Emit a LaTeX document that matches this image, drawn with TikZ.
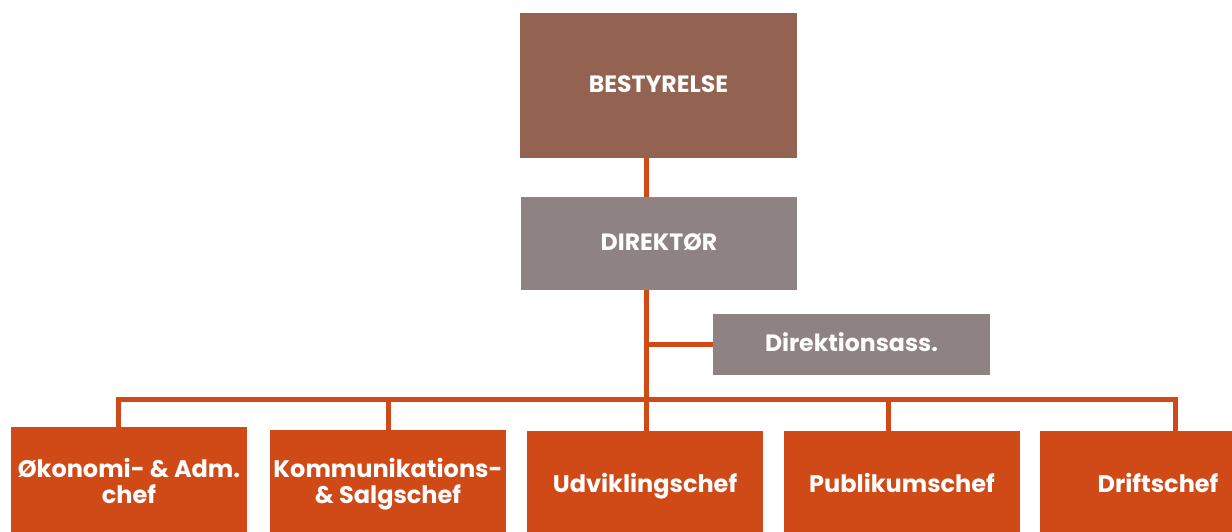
\documentclass[tikz,border=0pt]{standalone}
\usepackage{fontspec}
\setmainfont{Poppins}
\usepackage{tikz}
\usetikzlibrary{positioning}
\definecolor{brunt}{HTML}{946250}
\definecolor{graat}{HTML}{8E8382}
\definecolor{rust}{HTML}{D04A18}

\begin{document}
\begin{tikzpicture}[x=0.5pt, y=-0.5pt, every node/.style={rectangle, inner sep=0pt, text=white, align=center, font=\bfseries\fontsize{11.8}{13}\selectfont}, link/.style={rust, line width=2.5pt}, oneline/.style={text height=0.72em, text depth=0pt}, chefbox/.style={fill=rust, minimum width=118pt, minimum height=54pt, font=\bfseries\fontsize{12}{13}\selectfont}]

    \clip (0,0) rectangle (1232,531);

    \node[oneline, fill=brunt, minimum width=138.5pt, minimum height=72.5pt] (best) at (658.5,85.5) {BESTYRELSE};

    \node[oneline, fill=graat, minimum width=138pt, minimum height=46.5pt] (dir) at (659,243.5) {DIREKTØR};

    \node[oneline, fill=graat, minimum width=138.5pt, minimum height=30.5pt] (ass) at (851.5,344.5) {Direktionsass.};

    
    \node[chefbox] (oek) at (129,481) {Økonomi- \& Adm.\\chef};
    \node[chefbox] (kom) at (388,484) {Kommunikations-\\\& Salgschef};
    \node[chefbox, oneline] (udv) at (645,485) {Udviklingschef};
    \node[chefbox, oneline] (pub) at (902,485) {Publikumschef};
    \node[chefbox, oneline] (drift) at (1158,485) {Driftschef};

    
    \coordinate (stem) at (646,399);
    \coordinate (venstre) at (118,399);
    \coordinate (hoejre) at (1175,399);
    \coordinate (d2) at (388,399);
    \coordinate (d4) at (888,399);

    \draw[link] (best.south -| stem) to (dir.north -| stem);
    \draw[link] (dir.south -| stem) to (stem);
    \draw[link] (stem |- ass.west) to (ass.west);
    \draw[link] (venstre |- oek.north) -- (venstre) -- (hoejre) -- (hoejre |- drift.north);
    \draw[link] (d2) to (d2 |- kom.north);
    \draw[link] (stem) to (stem |- udv.north);
    \draw[link] (d4) to (d4 |- pub.north);
\end{tikzpicture}
\end{document}
